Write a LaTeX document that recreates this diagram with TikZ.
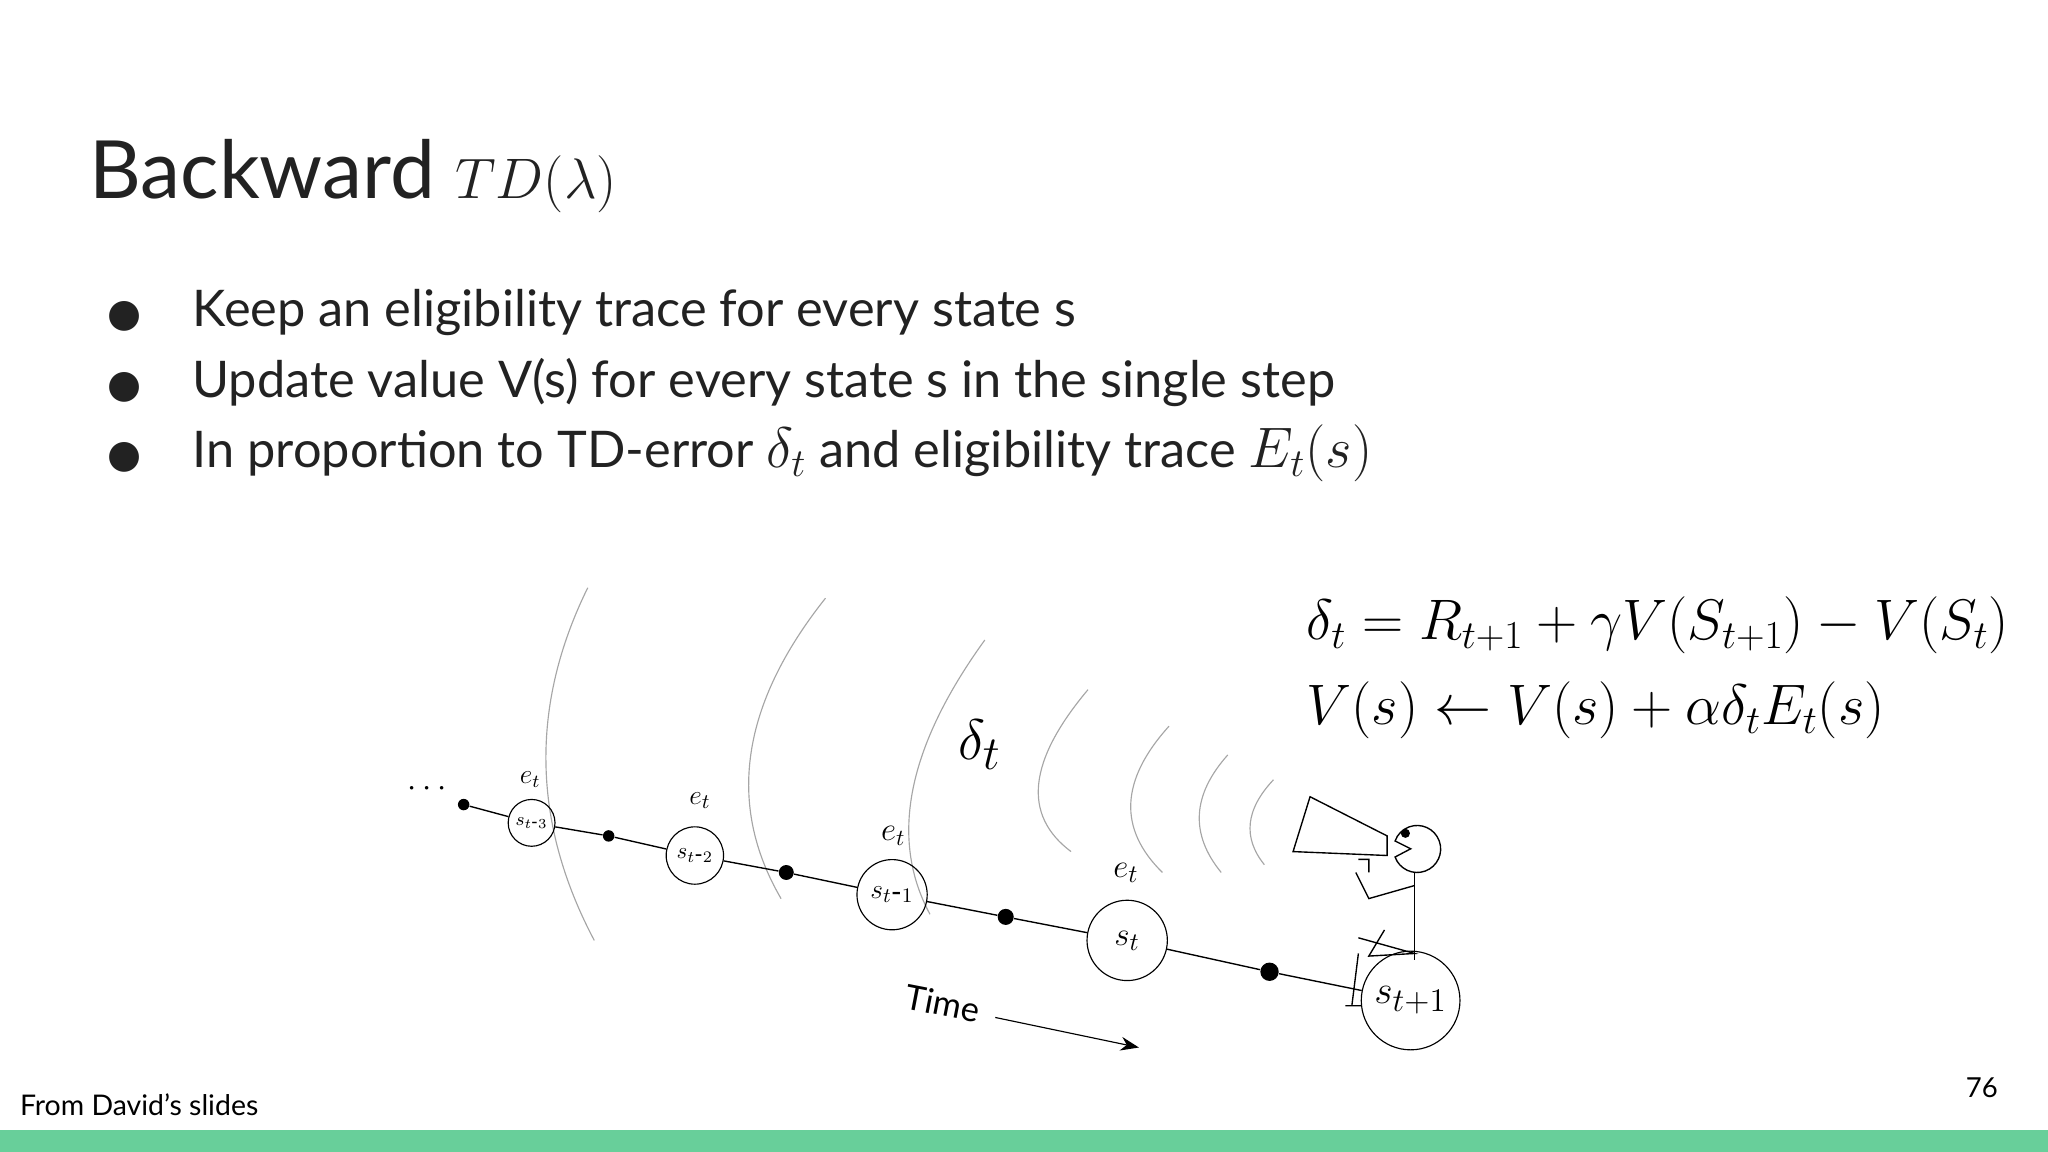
\documentclass[tikz,border=0pt]{standalone}
\usepackage{fontspec}
\setmainfont{Lato}
\newfontfamily\djv{DejaVu Sans}
\usetikzlibrary{arrows.meta,calc}
\definecolor{barg}{HTML}{68CF9A}
\definecolor{txt}{HTML}{222222}
\begin{document}
\begin{tikzpicture}[x=0.2mm,y=-0.2mm,
  st/.style={draw,circle,inner sep=0pt,line width=0.5pt,font=\rmfamily},
  dotn/.style={fill,circle,inner sep=0pt},
  arcl/.style={draw=gray!70,line width=0.5pt}]
\useasboundingbox (0,0) rectangle (1568,882);
\fill[barg] (0,865) rectangle (1568,882);
\node[anchor=base west,text=txt,font=\fontsize{35}{40}\selectfont,inner sep=0] (title) at (68,152) {Backward {\fontsize{46}{50}\selectfont$TD(\lambda)$}};
\foreach \y/\t [count=\i] in {250/{Keep an eligibility trace for every state s},304/{Update value V(s) for every state s in the single step},358/{In proportion to TD-error {\fontsize{27}{30}\selectfont$\delta_t$} and eligibility trace {\fontsize{25}{30}\selectfont$E_t(s)$}}}{
  \node[anchor=base west,text=txt,font=\fontsize{22}{26}\selectfont,inner sep=0] (b\i) at (147,\y) {\t};
  \node[anchor=base,text=txt,font=\djv\fontsize{17}{20}\selectfont,inner sep=0] (bb\i) at (95,\y) {●};
}
\node[anchor=base west,font=\fontsize{26}{30}\selectfont,inner sep=0] (eq1) at (1000,490) {$\delta_t = R_{t+1}+\gamma V(S_{t+1})-V(S_t)$};
\node[anchor=base west,font=\fontsize{26}{30}\selectfont,inner sep=0] (eq2) at (1000,555) {$V(s)\leftarrow V(s)+\alpha\delta_t E_t(s)$};
\node[anchor=base west,font=\fontsize{12.4}{14}\selectfont,inner sep=0] (foot) at (15,854) {From David’s slides};
\node[anchor=base east,font=\fontsize{12}{14}\selectfont,inner sep=0] (pg) at (1530,840) {76};
% arcs (quadratic through top T, control C, bottom B)
\foreach \tx/\ty/\cx/\cy/\bx/\by in {450/450/383.5/585/455/720, 632/458/535/580/598/688, 754/490/665/613/712/700, 833/528/764/610/820/652, 895/556/839/618/890/668, 940/578/899/624/935/668, 975/597/943/631/968/662}{
  \draw[arcl] (\tx,\ty) .. controls ($(\tx,\ty)!0.6667!(\cx,\cy)$) and ($(\bx,\by)!0.6667!(\cx,\cy)$) .. (\bx,\by);
}
\node[font=\fontsize{30}{32}\selectfont] (dl) at (750,570) {$\delta_t$};
% chain
\node[dotn,minimum size=5pt] (d0) at (355,616) {};
\node[font=\Large] (dots) at (327,604) {$\cdots$};
\node[st,minimum size=20.4pt] (s3) at (407,630) {\fontsize{8}{9}\selectfont$s_{t\mbox{-}3}$};
\node[st,minimum size=25pt] (s2) at (532,655) {\fontsize{10}{11}\selectfont$s_{t\mbox{-}2}$};
\node[st,minimum size=30.6pt] (s1) at (683,685) {\fontsize{13}{14}\selectfont$s_{t\mbox{-}1}$};
\node[st,minimum size=35pt] (s0) at (863,720) {\fontsize{15}{16}\selectfont$s_t$};
\node[st,minimum size=43pt] (sp) at (1080,766) {\fontsize{19}{20}\selectfont$s_{t+1}$};
\node[dotn,minimum size=5pt] (d1) at (466,640) {};
\node[dotn,minimum size=6.5pt] (d2) at (602,668) {};
\node[dotn,minimum size=7pt] (d3) at (770,702) {};
\node[dotn,minimum size=8pt] (d4) at (972,744) {};
\draw[line width=0.6pt] (d0)--(s3)--(d1)--(s2)--(d2)--(s1)--(d3)--(s0)--(d4)--(sp);
\node[font=\fontsize{12}{13}\selectfont] (e3) at (406,597) {$e_t$};
\node[font=\fontsize{13}{14}\selectfont] (e2) at (536,613) {$e_t$};
\node[font=\fontsize{14}{15}\selectfont] (e1) at (684,640) {$e_t$};
\node[font=\fontsize{15}{16}\selectfont] (e0) at (862,668) {$e_t$};
% time arrow
\node[rotate=-11,font=\fontsize{15}{16}\selectfont,inner sep=1pt] (time) at (722,768) {Time};
\coordinate (ta) at (762,779);
\coordinate (tb) at (872,802);
\draw[-{Stealth[length=8pt]},line width=0.5pt] (ta)--(tb);
% person with megaphone
\draw[line width=0.6pt] (1003,610) -- (1062,640) -- (1062,655) -- (990,652) -- cycle;
\draw[line width=0.6pt] (1085,650) ++(160:18) arc (160:-160:18) -- ++(12,6) -- cycle;
\fill (1076,638) circle (3.5);
\draw[line width=0.6pt] (1083,668) -- (1083,735);
\draw[line width=0.6pt] (1083,678) -- (1048,688) -- (1038,668) (1040,658) -- (1048,658) -- (1048,668);
\draw[line width=0.6pt] (1060,712) -- (1048,732) -- (1083,730) -- (1040,718) (1040,730) -- (1035,770) (1030,770) -- (1042,770);
\end{tikzpicture}
\end{document}
